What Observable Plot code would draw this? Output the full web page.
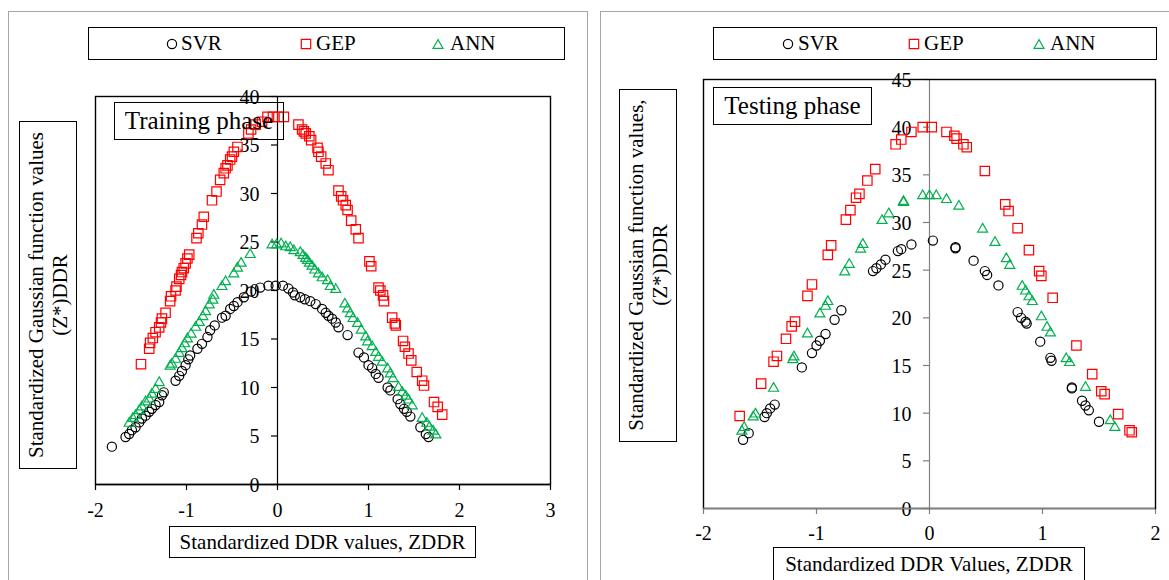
<!DOCTYPE html>
<html><head><meta charset="utf-8">
<script src="https://cdn.jsdelivr.net/npm/d3@7"></script>
<script src="https://cdn.jsdelivr.net/npm/@observablehq/plot@0.6"></script>
<style>
html,body{margin:0;padding:0;background:#fff;}
#page{position:relative;width:1169px;height:580px;overflow:hidden;font-family:"Liberation Serif","Times New Roman",serif;color:#000;background:#fff;}
.abs{position:absolute;box-sizing:border-box;}
.panel{border:1px solid #a6a6a6;}
.box{border:1.5px solid #000;background:#fff;}
.tbox{border:1.5px solid #000;background:transparent;display:flex;align-items:center;justify-content:center;font-size:25px;white-space:nowrap;}
.xtitle{display:flex;align-items:center;justify-content:center;font-size:21px;white-space:nowrap;}
.ytitle-inner{position:absolute;display:flex;flex-direction:column;align-items:center;justify-content:center;font-size:21px;line-height:24px;white-space:nowrap;transform:rotate(-90deg);}
.leg-text{position:absolute;font-size:21px;line-height:21px;white-space:nowrap;}
svg.plot{position:absolute;overflow:visible;}
</style>
</head><body>
<div id="page"></div>
<script>
// ---------------- DATA ----------------
const seriesNames = ["SVR", "GEP", "ANN"];

// Training phase
const trainSvrX = [-1.82,-1.67,-1.63,-1.60,-1.56,-1.52,-1.49,-1.45,-1.41,-1.38,-1.34,-1.30,-1.27,-1.25,-1.12,-1.08,-1.05,-1.01,-0.98,-0.96,-0.88,-0.83,-0.77,-0.74,-0.69,-0.61,-0.57,-0.52,-0.48,-0.44,-0.37,-0.29,-0.19,-0.10,-0.02,0.06,0.12,0.17,0.19,0.25,0.30,0.36,0.42,0.49,0.53,0.56,0.60,0.64,0.67,0.77,0.89,0.95,1.00,1.04,1.08,1.11,1.21,1.24,1.32,1.35,1.39,1.42,1.46,1.57,1.63,1.66];
const trainSvrY = [3.9,4.9,5.2,5.6,5.9,6.4,6.8,7.1,7.5,7.8,8.2,8.5,9.2,9.5,10.7,11.2,11.7,12.3,12.9,13.3,14.0,14.5,15.2,15.9,16.4,17.2,17.4,18.1,18.4,18.8,19.3,19.9,20.3,20.5,20.5,20.5,20.2,19.8,19.5,19.3,19.1,18.9,18.6,18.1,17.7,17.4,17.1,16.7,16.2,15.4,13.6,13.1,12.3,12.0,11.4,11.0,10.0,9.7,8.8,8.3,7.8,7.5,7.0,5.9,5.2,4.9];

const trainGepX = [-1.50,-1.41,-1.40,-1.37,-1.34,-1.30,-1.28,-1.27,-1.23,-1.18,-1.17,-1.12,-1.11,-1.08,-1.06,-1.05,-1.03,-1.01,-0.99,-0.97,-0.89,-0.87,-0.83,-0.81,-0.72,-0.67,-0.63,-0.59,-0.57,-0.55,-0.52,-0.50,-0.48,-0.44,-0.32,-0.29,-0.24,-0.17,-0.11,-0.05,0.01,0.07,0.23,0.27,0.29,0.31,0.35,0.37,0.44,0.45,0.48,0.53,0.56,0.67,0.70,0.72,0.75,0.77,0.81,0.86,0.89,1.01,1.03,1.11,1.13,1.16,1.17,1.26,1.29,1.30,1.38,1.40,1.44,1.47,1.53,1.59,1.61,1.72,1.76,1.81];
const trainGepY = [12.4,14.0,14.6,15.1,15.7,16.2,16.7,17.1,17.7,18.9,19.4,20.0,20.4,21.2,21.6,21.9,22.3,22.8,23.3,23.7,25.4,25.9,26.8,27.6,29.3,30.2,31.4,32.1,32.6,32.9,33.5,33.8,34.3,34.8,36.2,36.6,37.1,37.4,37.9,37.9,37.9,37.9,37.1,36.6,36.4,36.2,35.9,35.5,34.7,34.3,33.8,33.1,32.4,30.3,29.7,29.3,28.8,28.3,27.2,26.3,25.4,23.0,22.5,20.3,20.0,19.5,18.9,17.2,16.6,16.4,14.8,14.2,13.5,12.8,11.6,10.7,10.2,8.5,8.0,7.2];

const trainAnnX = [-1.63,-1.59,-1.56,-1.52,-1.49,-1.45,-1.41,-1.38,-1.34,-1.30,-1.18,-1.16,-1.12,-1.08,-1.05,-1.02,-0.99,-0.95,-0.90,-0.86,-0.82,-0.79,-0.75,-0.71,-0.70,-0.61,-0.57,-0.48,-0.44,-0.40,-0.30,-0.06,-0.01,0.04,0.09,0.14,0.18,0.25,0.28,0.31,0.33,0.35,0.38,0.41,0.45,0.49,0.55,0.58,0.64,0.74,0.77,0.80,0.83,0.88,0.92,0.97,0.99,1.04,1.08,1.11,1.15,1.21,1.24,1.27,1.33,1.37,1.41,1.44,1.48,1.59,1.64,1.67,1.71,1.74];
const trainAnnY = [6.3,6.8,7.1,7.6,8.0,8.5,8.8,9.3,9.8,10.5,12.2,12.4,12.9,13.5,14.0,14.5,15.0,15.5,16.2,16.7,17.3,17.8,18.5,19.0,19.5,20.4,20.9,21.7,22.3,22.8,23.7,24.7,24.7,24.8,24.5,24.4,24.1,23.9,23.6,23.3,23.1,22.8,22.5,22.1,21.7,21.3,21.0,20.4,20.1,18.6,18.1,17.6,17.1,16.6,15.9,15.2,14.7,14.2,13.6,13.1,12.6,11.9,11.4,10.9,10.0,9.5,9.1,8.7,8.1,6.8,6.3,5.9,5.5,5.1];

// Testing phase
const testSvrX = [-1.65,-1.60,-1.46,-1.44,-1.41,-1.37,-1.13,-1.04,-1.00,-0.97,-0.92,-0.84,-0.78,-0.50,-0.47,-0.43,-0.39,-0.28,-0.25,-0.16,0.03,0.23,0.23,0.39,0.49,0.51,0.61,0.78,0.81,0.85,0.86,0.98,1.07,1.08,1.26,1.26,1.35,1.38,1.41,1.50];
const testSvrY = [7.2,7.9,9.6,10.0,10.5,10.9,14.8,16.3,17.1,17.6,18.3,19.8,20.8,24.9,25.2,25.6,26.1,27.0,27.2,27.7,28.1,27.4,27.3,26.0,24.9,24.5,23.4,20.6,20.0,19.6,19.4,17.5,15.8,15.5,12.7,12.6,11.3,10.8,10.3,9.1];

const testGepX = [-1.68,-1.49,-1.38,-1.35,-1.27,-1.22,-1.19,-1.08,-1.04,-0.90,-0.87,-0.74,-0.70,-0.65,-0.62,-0.55,-0.48,-0.30,-0.25,-0.16,-0.06,0.02,0.15,0.22,0.24,0.30,0.33,0.49,0.67,0.70,0.78,0.88,0.97,0.99,1.09,1.30,1.44,1.52,1.55,1.67,1.77,1.79];
const testGepY = [9.7,13.1,15.4,16.0,17.8,19.1,19.6,22.3,23.5,26.6,27.6,30.3,31.3,32.6,33.0,34.4,35.6,38.2,38.7,39.5,40.0,40.0,39.5,39.1,38.8,38.2,37.9,35.4,31.9,31.2,29.4,27.1,24.9,24.4,22.1,17.1,14.1,12.3,12.0,9.9,8.2,8.0];

const testAnnX = [-1.66,-1.64,-1.56,-1.54,-1.38,-1.21,-1.20,-1.08,-0.97,-0.92,-0.90,-0.75,-0.71,-0.61,-0.59,-0.42,-0.36,-0.23,-0.23,-0.06,0.00,0.06,0.15,0.26,0.47,0.58,0.68,0.71,0.82,0.85,0.88,0.91,0.99,1.04,1.07,1.21,1.24,1.38,1.60,1.64];
const testAnnY = [8.1,8.5,9.6,9.9,12.6,15.6,15.9,18.3,20.4,21.2,21.7,24.8,25.6,27.2,27.7,30.2,30.9,32.1,32.2,32.8,32.8,32.8,32.4,31.7,29.3,27.9,26.2,25.5,23.3,22.8,22.2,21.7,20.1,19.0,18.4,15.7,15.3,12.7,9.2,8.5];

// Axes
const trainXTicks = [-2, -1, 0, 1, 2, 3];
const trainYTicks = [0, 5, 10, 15, 20, 25, 30, 35, 40];
const testXTicks = [-2, -1, 0, 1, 2];
const testYTicks = [0, 5, 10, 15, 20, 25, 30, 35, 40, 45];

// ---------------- STYLES ----------------
const FONT = '"Liberation Serif", "Times New Roman", serif';
const seriesStyle = {
  SVR: {symbol: "circle", r: 4.6, stroke: "#000000"},
  GEP: {symbol: "square", r: 5.3, stroke: "#ff0000"},
  ANN: {symbol: "triangle", r: 3.7, stroke: "#00b050"}
};

function rows(xs, ys) { return xs.map((x, i) => ({x, y: ys[i]})); }

function makePlot(cfg) {
  const marks = [
    Plot.ruleX([0], {stroke: cfg.axisColor, strokeWidth: 1.2}),
    Plot.ruleY(cfg.yTicks, {x1: 0, x2: 0, insetLeft: -6, stroke: cfg.axisColor, strokeWidth: 1.2}),
    Plot.text(cfg.yTicks, {x: 0, y: d => d, text: d => String(d), textAnchor: "end", dx: -18, dy: 1, fill: "#000", fontSize: 20}),
    Plot.ruleX(cfg.xTicks, {y1: 0, y2: 0, insetBottom: -6, stroke: cfg.axisColor, strokeWidth: 1.2}),
    Plot.text(cfg.xTicks, {x: d => d, y: 0, text: d => String(d), dy: cfg.xLabelDy, fill: "#000", fontSize: 20}),
    Plot.frame({stroke: "#000", strokeWidth: 1.4}),
    Plot.ruleY([0], {stroke: cfg.bottomColor, strokeWidth: 1.4})
  ];
  for (const name of seriesNames) {
    const s = seriesStyle[name];
    marks.push(Plot.dot(cfg.series[name], {x: "x", y: "y", symbol: s.symbol, r: s.r, stroke: s.stroke, fill: "none", strokeWidth: 1.2}));
  }
  const svg = Plot.plot({
    width: cfg.width, height: cfg.height,
    marginLeft: cfg.ml, marginRight: cfg.mr, marginTop: cfg.mt, marginBottom: cfg.mb,
    style: {fontFamily: FONT, fontSize: "20px", background: "transparent", color: "#000", overflow: "visible"},
    x: {domain: cfg.xDomain, axis: null},
    y: {domain: cfg.yDomain, axis: null},
    marks
  });
  svg.classList.add("plot");
  svg.style.left = cfg.left + "px";
  svg.style.top = cfg.top + "px";
  return svg;
}

const page = document.getElementById("page");
function div(cls, l, t, w, h, html) {
  const d = document.createElement("div");
  d.className = "abs " + cls;
  Object.assign(d.style, {left: l + "px", top: t + "px", width: w + "px", height: h + "px"});
  if (html !== undefined) d.innerHTML = html;
  page.appendChild(d);
  return d;
}
function symbolSvg(name, cx, cy) {
  const s = seriesStyle[name];
  const sym = {circle: d3.symbolCircle, square: d3.symbolSquare, triangle: d3.symbolTriangle}[s.symbol];
  const path = d3.symbol(sym, s.r * s.r * Math.PI)();
  const el = document.createElementNS("http://www.w3.org/2000/svg", "svg");
  el.setAttribute("width", 20); el.setAttribute("height", 20);
  el.style.position = "absolute";
  el.style.left = (cx - 10) + "px"; el.style.top = (cy - 10) + "px";
  el.innerHTML = `<path d="${path}" transform="translate(10,${s.symbol === "triangle" ? 11.4 : 10})" fill="none" stroke="${s.stroke}" stroke-width="1.2"/>`;
  page.appendChild(el);
}
function legend(l, r, symX, textX) {
  div("box", l, 27, r - l, 33);
  seriesNames.forEach((name, i) => {
    symbolSvg(name, symX[i], 43.5);
    const t = document.createElement("div");
    t.className = "leg-text";
    t.style.left = textX[i] + "px"; t.style.top = "33px";
    t.textContent = name;
    page.appendChild(t);
  });
}
function ytitle(l, t, w, h, lines) {
  const b = div("box", l, t, w, h);
  const inner = document.createElement("div");
  inner.className = "ytitle-inner";
  Object.assign(inner.style, {width: h + "px", height: w + "px", left: ((w - h) / 2 - 1.5) + "px", top: ((h - w) / 2 - 1.5) + "px"});
  inner.innerHTML = lines.map(s => `<div>${s}</div>`).join("");
  b.appendChild(inner);
}

// Panel frames
div("panel", 8, 11, 580, 600);
div("panel", 600, 11, 600, 600);

// Left: training phase
page.appendChild(makePlot({
  left: 0, top: 0, width: 590, height: 580,
  ml: 95, mr: 40, mt: 96, mb: 96,
  xDomain: [-2, 3], yDomain: [0, 40],
  xTicks: trainXTicks, yTicks: trainYTicks,
  axisColor: "#000", bottomColor: "#000", xLabelDy: 26,
  series: {SVR: rows(trainSvrX, trainSvrY), GEP: rows(trainGepX, trainGepY), ANN: rows(trainAnnX, trainAnnY)}
}));
// Right: testing phase
page.appendChild(makePlot({
  left: 600, top: 0, width: 569, height: 580,
  ml: 103, mr: 14, mt: 79, mb: 72,
  xDomain: [-2, 2], yDomain: [0, 45],
  xTicks: testXTicks, yTicks: testYTicks,
  axisColor: "#808080", bottomColor: "#808080", xLabelDy: 25,
  series: {SVR: rows(testSvrX, testSvrY), GEP: rows(testGepX, testGepY), ANN: rows(testAnnX, testAnnY)}
}));

// Legends
legend(88, 565, [171.5, 306, 438], [181, 316, 450]);
legend(713, 1157, [788, 914, 1039], [798, 924, 1050]);

// Phase labels
div("tbox", 114, 102, 170, 38, "Training phase");
div("tbox", 713, 87, 159, 38, "Testing phase");

// Axis titles
ytitle(19, 121, 58, 348, ["Standardized Gaussian function values", "(Z*)DDR"]);
ytitle(619, 89, 58, 353, ["Standardized Gaussian function values,", "(Z*)DDR"]);
div("box xtitle", 169, 526, 307, 32, "Standardized DDR values, ZDDR");
div("box xtitle", 773, 547, 312, 40, "<span style='margin-top:-6px'>Standardized DDR Values, ZDDR</span>");
</script>
</body></html>
